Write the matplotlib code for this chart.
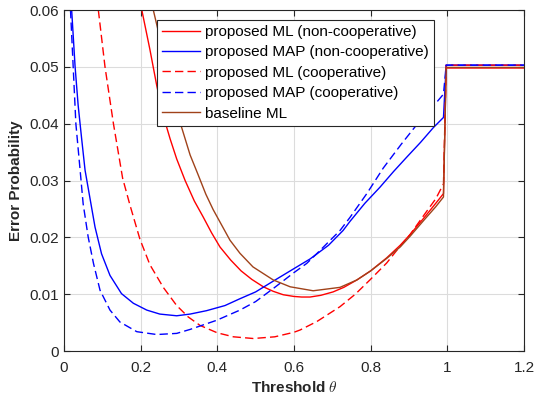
import numpy as np
import matplotlib
matplotlib.use('Agg')
from matplotlib import pyplot as plt

plt.rcParams['font.family'] = ['Liberation Sans', 'DejaVu Sans']
plt.rcParams['mathtext.fontset'] = 'cm'

# error probability vs. detection threshold, five detectors
th_ml_nc = [0.203, 0.224, 0.242, 0.259, 0.277, 0.294, 0.316, 0.34, 0.363, 0.385, 0.407, 0.435,
            0.462, 0.49, 0.52, 0.546, 0.572, 0.60, 0.62, 0.642, 0.67, 0.702, 0.73, 0.764, 0.80,
            0.842, 0.877, 0.903, 0.94, 0.97, 0.99, 0.997, 1.2]
pe_ml_nc = [0.060, 0.0531, 0.0467, 0.0414, 0.0373, 0.0338, 0.0300, 0.0264, 0.0236, 0.0208, 0.0183, 0.0160,
            0.0141, 0.0126, 0.0113, 0.0105, 0.0099, 0.0096, 0.0095, 0.0095, 0.0098, 0.0104, 0.0112, 0.0125, 0.0141,
            0.0164, 0.0186, 0.0205, 0.0235, 0.0260, 0.0277, 0.0498, 0.0498]

th_map_nc = [0.020, 0.029, 0.037, 0.046, 0.055, 0.068, 0.081, 0.098, 0.12, 0.150, 0.181, 0.216,
             0.25, 0.294, 0.329, 0.372, 0.42, 0.459, 0.50, 0.546, 0.60, 0.642, 0.69, 0.728, 0.746,
             0.785, 0.824, 0.86, 0.894, 0.93, 0.9635, 0.99, 0.997, 1.2]
pe_map_nc = [0.060, 0.050, 0.0432, 0.0374, 0.0318, 0.0268, 0.0218, 0.0171, 0.0133, 0.0101, 0.0084, 0.0072,
             0.0065, 0.0062, 0.0065, 0.0071, 0.0080, 0.0092, 0.0104, 0.0123, 0.0145, 0.0162, 0.0186, 0.0212, 0.0228,
             0.0260, 0.0288, 0.0316, 0.0341, 0.0367, 0.0393, 0.0411, 0.0503, 0.0503]

th_ml_c = [0.0896, 0.107, 0.129, 0.153, 0.172, 0.198, 0.224, 0.259, 0.294, 0.324, 0.355, 0.40,
           0.442, 0.494, 0.55, 0.60, 0.616, 0.66, 0.72, 0.76, 0.798, 0.842, 0.868, 0.903, 0.94,
           0.97, 0.99, 0.997, 1.2]
pe_ml_c = [0.060, 0.050, 0.040, 0.0304, 0.0257, 0.0197, 0.0152, 0.0112, 0.0080, 0.0060, 0.0045, 0.0032,
           0.0025, 0.0022, 0.0025, 0.0033, 0.0037, 0.0052, 0.0078, 0.0100, 0.0125, 0.0155, 0.0177, 0.0205, 0.0240,
           0.0268, 0.0294, 0.0503, 0.0503]

th_map_c = [0.017, 0.024, 0.031, 0.044, 0.050, 0.063, 0.077, 0.094, 0.12, 0.146, 0.19, 0.242,
            0.294, 0.329, 0.398, 0.459, 0.50, 0.546, 0.60, 0.633, 0.659, 0.72, 0.746, 0.79, 0.833,
            0.88, 0.92, 0.96, 0.99, 0.997, 1.2]
pe_map_c = [0.060, 0.050, 0.040, 0.0304, 0.0259, 0.0201, 0.0154, 0.0107, 0.0072, 0.0051, 0.0034, 0.0029,
            0.0031, 0.0038, 0.0054, 0.0072, 0.0087, 0.0110, 0.0138, 0.0154, 0.0171, 0.0212, 0.0235, 0.0277, 0.0322,
            0.0364, 0.0398, 0.0428, 0.0452, 0.0503, 0.0503]

th_base = [0.233, 0.255, 0.281, 0.303, 0.329, 0.35, 0.37, 0.389, 0.433, 0.459, 0.493, 0.546, 0.59,
           0.65, 0.72, 0.764, 0.80, 0.842, 0.877, 0.903, 0.94, 0.97, 0.99, 0.997, 1.2]
pe_base = [0.060, 0.0537, 0.0461, 0.0402, 0.0345, 0.0310, 0.0276, 0.0249, 0.0195, 0.0172, 0.0148, 0.0125, 0.0113,
           0.0106, 0.0112, 0.0125, 0.0141, 0.0163, 0.0183, 0.0202, 0.0231, 0.0254, 0.0271, 0.0499, 0.0499]

fig = plt.figure(figsize=(5.35, 3.96), dpi=100)
ax = fig.add_axes([0.1196, 0.1136, 0.8598, 0.8611])

ax.plot(th_ml_nc, pe_ml_nc, '-', color='#ff0000', lw=1, label='proposed ML (non-cooperative)')
ax.plot(th_map_nc, pe_map_nc, '-', color='#0000ff', lw=1, label='proposed MAP (non-cooperative)')
ax.plot(th_ml_c, pe_ml_c, '--', color='#ff0000', lw=1, dashes=(6, 3), label='proposed ML (cooperative)')
ax.plot(th_map_c, pe_map_c, '--', color='#0000ff', lw=1, dashes=(6, 3), label='proposed MAP (cooperative)')
ax.plot(th_base, pe_base, '-', color='#a0421a', lw=1, label='baseline ML')

ax.set_xlim(0, 1.2)
ax.set_ylim(0, 0.06)
ax.set_xticks(np.arange(0, 1.21, 0.2))
ax.set_xticklabels(['0', '0.2', '0.4', '0.6', '0.8', '1', '1.2'])
ax.set_yticks(np.arange(0, 0.061, 0.01))
ax.set_yticklabels(['0', '0.01', '0.02', '0.03', '0.04', '0.05', '0.06'])
ax.grid(True, color='#dcdcdc', lw=0.8)
ax.set_axisbelow(True)
ax.tick_params(direction='in', labelsize=11, colors='#262626', length=4,
               top=True, right=True, labelcolor='#262626')
ax.tick_params(axis='x', pad=7)
for s in ax.spines.values():
    s.set_color('#262626')
    s.set_linewidth(0.8)

ax.set_xlabel(r'Threshold $\theta$', fontsize=11, fontweight='bold', color='#262626', labelpad=4)
ax.set_ylabel('Error Probability', fontsize=11, fontweight='bold', color='#262626', labelpad=5)

leg = ax.legend(loc='upper left', bbox_to_anchor=(0.202, 0.972), fontsize=11, frameon=True,
                fancybox=False, edgecolor='#262626', framealpha=1, borderpad=0.35,
                labelspacing=0.42, handlelength=2.5, handletextpad=0.3, borderaxespad=0)
leg.get_frame().set_linewidth(0.8)

fig.savefig('out.png', dpi=100)
